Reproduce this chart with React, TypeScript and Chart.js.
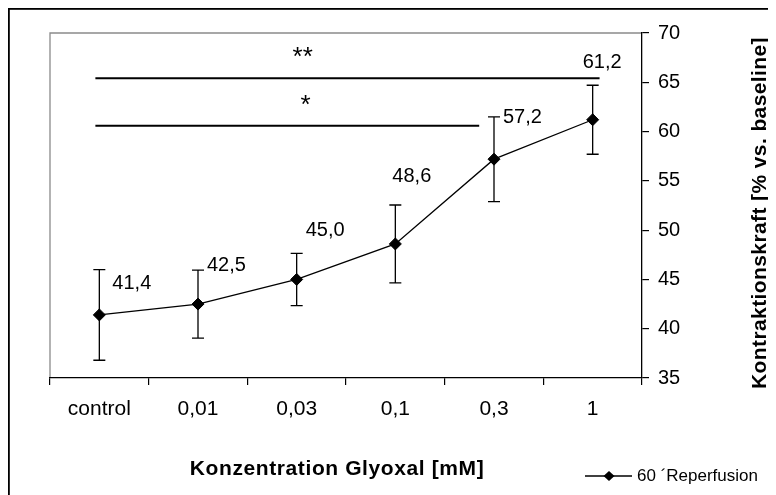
import React, { useEffect, useRef } from "react";
import { Chart, registerables } from "chart.js";

Chart.register(...registerables);

// ---- data ----
const categories = ["control", "0,01", "0,03", "0,1", "0,3", "1"];
const meanValues = [41.4, 42.5, 45.0, 48.6, 57.2, 61.2];
const errorValues = [4.6, 3.45, 2.65, 3.95, 4.3, 3.5];
const valueLabels = ["41,4", "42,5", "45,0", "48,6", "57,2", "61,2"];
const yTickValues = [35, 40, 45, 50, 55, 60, 65, 70];
const seriesName = "60 \u00B4Reperfusion";
const xTitle = "Konzentration Glyoxal [mM]";
const yTitle = "Kontraktionskraft [% vs. baseline]";
const sigLabels = ["**", "*"];
const sigLevels = [65.4, 60.6];
const sigStarts = [-0.04, -0.04];
const sigEnds = [5.07, 3.85];

// ---- layout / style (not data) ----
const W = 768;
const H = 487;
const FONT = "'Liberation Sans', Arial, sans-serif";
const labelOffsets = [
  [13, -31],
  [9, -39],
  [9, -49],
  [-3, -67],
  [9, -42],
  [-10, -57],
];

const decorPlugin = {
  id: "decor",
  beforeDraw(chart: any) {
    const ctx = chart.ctx;
    const { left, top, right, bottom } = chart.chartArea;
    ctx.save();
    ctx.fillStyle = "#fff";
    ctx.fillRect(0, 0, chart.width, chart.height);
    // outer frame (left + top)
    ctx.fillStyle = "#000";
    ctx.fillRect(0, 0, chart.width, 1.8);
    ctx.fillRect(0, 0, 1.8, chart.height);
    // plot area grey border (left + top)
    ctx.strokeStyle = "#8a8a8a";
    ctx.lineWidth = 1.3;
    ctx.beginPath();
    ctx.moveTo(left, bottom);
    ctx.lineTo(left, top);
    ctx.lineTo(right, top);
    ctx.stroke();
    ctx.restore();
  },
  afterDatasetsDraw(chart: any) {
    const ctx = chart.ctx;
    const xs = chart.scales.x;
    const ys = chart.scales.y;
    ctx.save();
    // error bars
    ctx.strokeStyle = "#000";
    ctx.lineWidth = 1.3;
    meanValues.forEach((v, i) => {
      const x = xs.getPixelForValue(i);
      const yT = ys.getPixelForValue(v + errorValues[i]);
      const yB = ys.getPixelForValue(v - errorValues[i]);
      ctx.beginPath();
      ctx.moveTo(x, yT);
      ctx.lineTo(x, yB);
      ctx.moveTo(x - 6, yT);
      ctx.lineTo(x + 6, yT);
      ctx.moveTo(x - 6, yB);
      ctx.lineTo(x + 6, yB);
      ctx.stroke();
    });
    // significance bars
    ctx.lineWidth = 2;
    ctx.fillStyle = "#000";
    sigLabels.forEach((lab, k) => {
      const y = ys.getPixelForValue(sigLevels[k]);
      const x1 = xs.getPixelForValue(sigStarts[k]);
      const x2 = xs.getPixelForValue(sigEnds[k]);
      ctx.beginPath();
      ctx.moveTo(x1, y);
      ctx.lineTo(x2, y);
      ctx.stroke();
      ctx.font = `26px ${FONT}`;
      ctx.textAlign = "center";
      ctx.textBaseline = "alphabetic";
      const cx = xs.getPixelForValue(2) + (k === 0 ? 6 : 9);
      ctx.fillText(lab, cx, y - 13);
    });
    // value labels
    ctx.font = `20px ${FONT}`;
    ctx.textAlign = "left";
    ctx.textBaseline = "middle";
    valueLabels.forEach((lab, i) => {
      const x = xs.getPixelForValue(i) + labelOffsets[i][0];
      const y = ys.getPixelForValue(meanValues[i]) + labelOffsets[i][1];
      ctx.fillText(lab, x, y);
    });
    ctx.restore();
  },
  afterDraw(chart: any) {
    const ctx = chart.ctx;
    const { left, right } = chart.chartArea;
    ctx.save();
    ctx.fillStyle = "#000";
    // x title
    ctx.font = `bold 21px ${FONT}`;
    (ctx as any).letterSpacing = "0.6px";
    ctx.textAlign = "center";
    ctx.textBaseline = "alphabetic";
    ctx.fillText(xTitle, (left + right) / 2 - 9, 467);
    // y title (rotated, reading bottom to top)
    ctx.save();
    ctx.translate(758, 205);
    ctx.rotate(-Math.PI / 2);
    (ctx as any).letterSpacing = "0.4px";
    ctx.fillText(yTitle, 0, 0);
    ctx.restore();
    (ctx as any).letterSpacing = "0px";
    // legend
    const ly = 468;
    ctx.strokeStyle = "#000";
    ctx.lineWidth = 1.3;
    ctx.beginPath();
    ctx.moveTo(577, ly);
    ctx.lineTo(624, ly);
    ctx.stroke();
    ctx.beginPath();
    ctx.moveTo(601, ly - 5);
    ctx.lineTo(606.5, ly);
    ctx.lineTo(601, ly + 5);
    ctx.lineTo(595.5, ly);
    ctx.closePath();
    ctx.fill();
    ctx.font = `17px ${FONT}`;
    ctx.textAlign = "left";
    ctx.textBaseline = "middle";
    ctx.fillText(seriesName, 629, ly);
    ctx.restore();
  },
};

export default function App() {
  const ref = useRef<HTMLCanvasElement | null>(null);
  useEffect(() => {
    if (!ref.current) return;
    const chart = new Chart(ref.current, {
      type: "line",
      data: {
        labels: categories,
        datasets: [
          {
            label: seriesName,
            data: meanValues,
            borderColor: "#000",
            backgroundColor: "#000",
            borderWidth: 1.3,
            pointStyle: "rectRot",
            pointRadius: 6,
            pointBorderWidth: 1,
            pointBackgroundColor: "#000",
            pointBorderColor: "#000",
            tension: 0,
          },
        ],
      },
      options: {
        animation: false,
        responsive: false,
        devicePixelRatio: 1,
        layout: { padding: { left: 42, top: 25, right: 0, bottom: 0 } },
        plugins: { legend: { display: false }, tooltip: { enabled: false } },
        scales: {
          x: {
            type: "category",
            offset: true,
            grid: {
              offset: true,
              drawOnChartArea: false,
              drawTicks: true,
              tickLength: 7,
              color: "#000",
              lineWidth: 1.2,
            },
            border: { color: "#000", width: 1.3 },
            ticks: {
              color: "#000",
              font: { family: FONT, size: 21 },
              padding: 12,
              maxRotation: 0,
              autoSkip: false,
            },
            afterFit: (s: any) => {
              s.height = 117;
            },
          },
          y: {
            position: "right",
            min: 35,
            max: 70,
            afterBuildTicks: (s: any) => {
              s.ticks = yTickValues.map((v) => ({ value: v }));
            },
            grid: {
              drawOnChartArea: false,
              drawTicks: true,
              tickLength: 7,
              color: "#000",
              lineWidth: 1.2,
            },
            border: { color: "#000", width: 1.3 },
            ticks: {
              color: "#000",
              font: { family: FONT, size: 20 },
              padding: 9,
            },
            afterFit: (s: any) => {
              s.width = 134;
            },
          },
        },
      } as any,
      plugins: [decorPlugin],
    });
    return () => chart.destroy();
  }, []);
  return (
    <canvas
      ref={ref}
      width={W}
      height={H}
      style={{ display: "block", width: W, height: H }}
    />
  );
}
